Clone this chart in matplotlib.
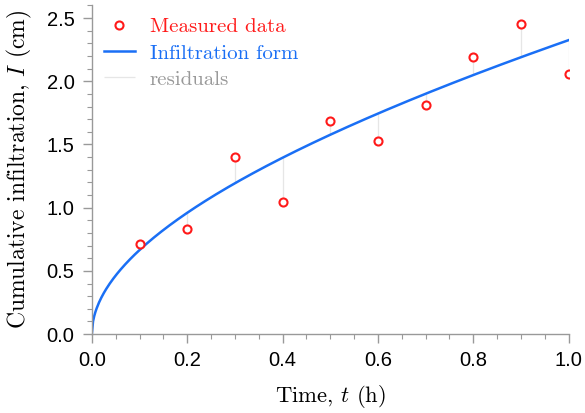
#-*- coding:utf-8 -*-

import numpy as np
import matplotlib
matplotlib.use("Agg")
import matplotlib.pyplot as plt
from matplotlib.ticker import MultipleLocator, FormatStrFormatter


# Données mesurées
time_h = [0.1, 0.2, 0.3, 0.4, 0.5, 0.6, 0.7, 0.8, 0.9, 1.0]
infiltration_cm = [0.71, 0.83, 1.40, 1.045, 1.685, 1.53, 1.815, 2.19, 2.455, 2.055]

# Paramètres de la forme d'infiltration (Philip : I = S*sqrt(t) + K*t)
sorptivity = 2.0
conductivity = 0.325

# Couleurs
red = "#ff1a1a"
blue = "#1a6ff5"
gray_axis = "#999999"

plt.rcParams["mathtext.fontset"] = "cm"
plt.rcParams["axes.unicode_minus"] = False

fig, ax = plt.subplots(figsize=(5.85, 4.13), dpi=100)
fig.subplots_adjust(left=0.157, right=0.972, bottom=0.191, top=0.987)

# Courbe du modèle
t_fit = np.linspace(0, 1, 400)
i_fit = sorptivity * np.sqrt(t_fit) + conductivity * t_fit
i_pred = sorptivity * np.sqrt(np.array(time_h)) + conductivity * np.array(time_h)

# Résidus
ax.vlines(time_h, infiltration_cm, i_pred, color="#e6e6e6", lw=0.9,
          label="residuals", zorder=1)
ax.plot(t_fit, i_fit, color=blue, lw=1.8, label="Infiltration form", zorder=2)
ax.plot(time_h, infiltration_cm, "o", mfc="white", mec=red, mew=1.5, ms=5.8,
        label="Measured data", zorder=3)

ax.set_xlim(0, 1.0)
ax.set_ylim(0, 2.6)

# Axes
for side in ["top", "right"]:
	ax.spines[side].set_visible(False)
for side in ["left", "bottom"]:
	ax.spines[side].set_color(gray_axis)
	ax.spines[side].set_linewidth(1.0)

ax.xaxis.set_major_locator(MultipleLocator(0.2))
ax.xaxis.set_minor_locator(MultipleLocator(0.05))
ax.yaxis.set_major_locator(MultipleLocator(0.5))
ax.yaxis.set_minor_locator(MultipleLocator(0.1))
ax.xaxis.set_major_formatter(FormatStrFormatter("%.1f"))
ax.yaxis.set_major_formatter(FormatStrFormatter("%.1f"))
ax.tick_params(which="major", direction="out", length=6.5, width=1.0,
               color=gray_axis, labelsize=14.5, pad=6)
ax.tick_params(which="minor", direction="out", length=3.6, width=0.8,
               color=gray_axis)
for lab in ax.get_xticklabels() + ax.get_yticklabels():
	lab.set_fontfamily("Liberation Sans")

# Annotation
ax.set_xlabel("Time, $t$ (h)", fontfamily="cmr10", fontsize=16.3, labelpad=9)
ax.set_ylabel("Cumulative infiltration, $I$ (cm)", fontfamily="cmr10",
              fontsize=17, labelpad=9)

handles, labels = ax.get_legend_handles_labels()
order = [2, 1, 0]
leg = ax.legend([handles[i] for i in order], [labels[i] for i in order],
                loc="upper left", frameon=False,
                prop={"family": "cmr10", "size": 15},
                handlelength=1.45, handletextpad=0.72, labelspacing=0.36,
                borderaxespad=0.2, bbox_to_anchor=(0.0, 1.0))
for text, col in zip(leg.get_texts(), [red, blue, "#999999"]):
	text.set_color(col)

fig.savefig("out.png", dpi=100)
